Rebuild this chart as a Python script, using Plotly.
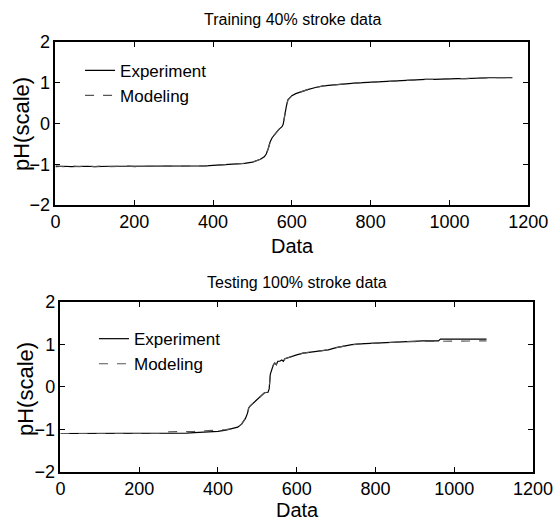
import plotly.graph_objects as go

# ---------------- data ----------------
train_x = [0, 20, 40, 60, 80, 100, 120, 140, 160, 180, 200, 220, 240, 260, 280, 300, 320, 340, 360, 380,
           400, 420, 440, 460, 480, 500, 510, 520, 530, 535, 540, 545, 550, 555, 560, 565, 570, 575, 578,
           580, 583, 586, 590, 595, 600, 610, 620, 640, 660, 680, 700, 720, 740, 760, 780, 800, 820, 840,
           860, 880, 900, 920, 940, 960, 980, 1000, 1020, 1040, 1060, 1080, 1100, 1120, 1140, 1160]
train_exp = [-1.06, -1.05, -1.06, -1.05, -1.05, -1.06, -1.05, -1.05, -1.05, -1.05, -1.05, -1.05, -1.05,
             -1.05, -1.05, -1.05, -1.05, -1.05, -1.04, -1.04, -1.03, -1.02, -1.01, -1.00, -0.98, -0.95,
             -0.92, -0.88, -0.82, -0.75, -0.62, -0.45, -0.35, -0.28, -0.22, -0.17, -0.12, -0.08, -0.02,
             0.10, 0.25, 0.42, 0.58, 0.64, 0.68, 0.73, 0.77, 0.83, 0.88, 0.92, 0.94, 0.96, 0.97, 0.99,
             1.00, 1.01, 1.03, 1.04, 1.05, 1.06, 1.07, 1.07, 1.08, 1.08, 1.09, 1.10, 1.10, 1.10, 1.11,
             1.11, 1.12, 1.12, 1.12, 1.12]
train_mod = [-1.04, -1.06, -1.04, -1.06, -1.04, -1.06, -1.04, -1.06, -1.05, -1.04, -1.06, -1.05, -1.05,
             -1.05, -1.05, -1.05, -1.05, -1.05, -1.04, -1.04, -1.03, -1.02, -1.01, -1.00, -0.98, -0.95,
             -0.92, -0.88, -0.82, -0.75, -0.62, -0.45, -0.35, -0.28, -0.22, -0.17, -0.12, -0.08, -0.02,
             0.10, 0.25, 0.42, 0.58, 0.64, 0.68, 0.73, 0.77, 0.83, 0.88, 0.92, 0.94, 0.96, 0.97, 0.99,
             1.00, 1.01, 1.03, 1.04, 1.05, 1.06, 1.07, 1.07, 1.08, 1.08, 1.09, 1.10, 1.10, 1.10, 1.11,
             1.11, 1.12, 1.12, 1.12, 1.12]

test_x = [0, 20, 40, 60, 80, 100, 120, 140, 160, 180, 200, 220, 240, 260, 270, 300, 320, 340, 360, 380,
          400, 420, 440, 450, 460, 465, 470, 475, 478, 482, 488, 494, 500, 506, 512, 518, 527, 530, 533,
          536, 540, 544, 548, 552, 557, 562, 566, 570, 582, 600, 616, 640, 660, 680, 700, 720, 740, 760,
          780, 800, 820, 840, 860, 880, 900, 920, 940, 960, 965, 980, 1000, 1020, 1040, 1060, 1082]
test_exp = [-1.10, -1.10, -1.10, -1.10, -1.10, -1.10, -1.10, -1.10, -1.10, -1.10, -1.10, -1.10, -1.10,
            -1.10, -1.10, -1.10, -1.09, -1.08, -1.07, -1.06, -1.05, -1.02, -0.98, -0.95, -0.88, -0.82,
            -0.74, -0.62, -0.50, -0.45, -0.40, -0.35, -0.30, -0.24, -0.18, -0.14, -0.13, -0.05, 0.30,
            0.40, 0.50, 0.56, 0.52, 0.60, 0.60, 0.63, 0.60, 0.66, 0.70, 0.75, 0.79, 0.82, 0.85, 0.87,
            0.92, 0.96, 0.99, 1.01, 1.02, 1.03, 1.04, 1.05, 1.06, 1.07, 1.07, 1.08, 1.08, 1.08, 1.12,
            1.12, 1.12, 1.12, 1.12, 1.12, 1.12]
test_mod = [-1.10, -1.10, -1.10, -1.10, -1.10, -1.10, -1.10, -1.10, -1.10, -1.10, -1.10, -1.10, -1.10,
            -1.10, -1.06, -1.06, -1.06, -1.05, -1.04, -1.03, -1.03, -1.01, -0.98, -0.95, -0.88, -0.82,
            -0.74, -0.62, -0.50, -0.45, -0.40, -0.35, -0.30, -0.24, -0.18, -0.14, -0.13, -0.05, 0.30,
            0.40, 0.50, 0.56, 0.52, 0.60, 0.60, 0.63, 0.60, 0.66, 0.70, 0.75, 0.79, 0.82, 0.85, 0.87,
            0.92, 0.96, 0.99, 1.01, 1.02, 1.03, 1.04, 1.05, 1.06, 1.06, 1.06, 1.07, 1.07, 1.07, 1.07,
            1.08, 1.08, 1.08, 1.08, 1.08, 1.08]

titles = ["Training 40% stroke data", "Testing 100% stroke data"]
x_ticks = [0, 200, 400, 600, 800, 1000, 1200]
y_ticks = [-2, -1, 0, 1, 2]

# ---------------- figure ----------------
FONT = "Liberation Sans, Arial, sans-serif"
W, H = 556, 523
fig = go.Figure()

fig.add_trace(go.Scatter(x=train_x, y=train_exp, mode="lines", name="Experiment",
                         line=dict(color="#000000", width=1.2), xaxis="x", yaxis="y", legend="legend"))
fig.add_trace(go.Scatter(x=train_x, y=train_mod, mode="lines", name="Modeling",
                         line=dict(color="#555555", width=1.2, dash="dash"), xaxis="x", yaxis="y",
                         legend="legend"))
fig.add_trace(go.Scatter(x=test_x, y=test_exp, mode="lines", name="Experiment",
                         line=dict(color="#000000", width=1.2), xaxis="x2", yaxis="y2", legend="legend2"))
fig.add_trace(go.Scatter(x=test_x, y=test_mod, mode="lines", name="Modeling",
                         line=dict(color="#555555", width=1.2, dash="dash"), xaxis="x2", yaxis="y2",
                         legend="legend2"))

axis_common = dict(showgrid=False, zeroline=False, showline=True, mirror="ticks", linecolor="black",
                   linewidth=1.5, ticks="inside", ticklen=5, tickcolor="black", automargin=False,
                   tickfont=dict(family=FONT, size=18, color="black"))


def label(text, x, y, size, angle=0):
    return dict(text=text, x=x / W, y=1 - y / H, xref="paper", yref="paper", xanchor="center",
                yanchor="middle", showarrow=False, textangle=angle,
                font=dict(family=FONT, size=size, color="black"))


fig.update_layout(
    width=W, height=H,
    margin=dict(l=0, r=0, t=0, b=0),
    paper_bgcolor="white", plot_bgcolor="white",
    showlegend=True,
    xaxis=dict(domain=[0.0998, 0.950], anchor="y", range=[0, 1200], tickvals=x_ticks, **axis_common),
    yaxis=dict(domain=[0.608, 0.920], anchor="x", range=[-2, 2], tickvals=y_ticks, **axis_common),
    xaxis2=dict(domain=[0.1088, 0.9586], anchor="y2", range=[0, 1200], tickvals=x_ticks, **axis_common),
    yaxis2=dict(domain=[0.098, 0.423], anchor="x2", range=[-2, 2], tickvals=y_ticks, **axis_common),
    legend=dict(x=0.144, y=0.899, xanchor="left", yanchor="top", bgcolor="rgba(0,0,0,0)",
                font=dict(family=FONT, size=17, color="black"), tracegroupgap=0),
    legend2=dict(x=0.169, y=0.386, xanchor="left", yanchor="top", bgcolor="rgba(0,0,0,0)",
                 font=dict(family=FONT, size=17, color="black"), tracegroupgap=0),
    annotations=[
        label(titles[0], 292, 20, 16),
        label(titles[1], 297, 282, 16),
        label("Data", 292, 246, 20),
        label("Data", 297, 510, 20),
        label("pH(scale)", 21, 124, 22, -90),
        label("pH(scale)", 25, 389, 22, -90),
    ],
)

fig.write_html(
    "out.html",
    config={"displayModeBar": False},
    post_script="document.body.style.margin='0';document.body.style.overflow='hidden';"
                "document.documentElement.style.overflow='hidden';",
)
